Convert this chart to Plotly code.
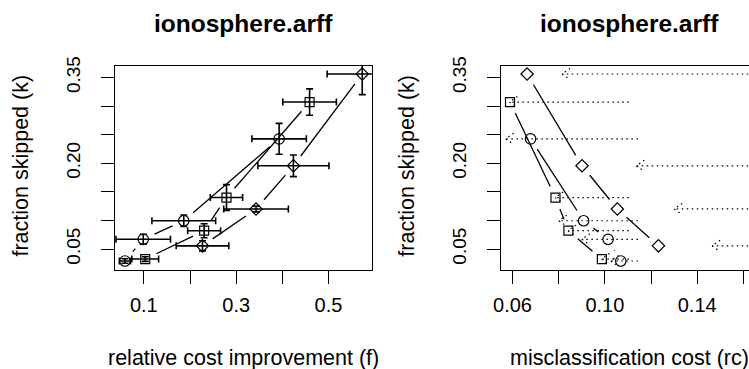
import math
import plotly.graph_objects as go

# ---- data: fraction skipped (k), relative cost improvement (f), misclassification cost (rc)
circ_k = [0.029, 0.067, 0.0994, 0.2426]
circ_k_sd = [0.004, 0.0088, 0.010, 0.027]
circ_f = [0.059, 0.0987, 0.1865, 0.393]
circ_f_sd = [0.012, 0.059, 0.069, 0.059]
circ_rc = [0.1069, 0.1014, 0.0908, 0.0678]
circ_rc_ref = [0.1025, 0.090, 0.080, 0.057]
circ_rc_base = 0.1143

sq_k = [0.0324, 0.082, 0.140, 0.307]
sq_k_sd = [0.004, 0.0122, 0.0225, 0.023]
sq_f = [0.103, 0.2306, 0.279, 0.459]
sq_f_sd = [0.029, 0.0357, 0.035, 0.058]
sq_rc = [0.0987, 0.0842, 0.0786, 0.0589]
sq_rc_ref = [0.0985, 0.0840, 0.0784, 0.0586]
sq_rc_base = 0.1104

dia_k = [0.0555, 0.120, 0.1955, 0.356]
dia_k_sd = [0.0088, 0.005, 0.019, 0.036]
dia_f = [0.227, 0.343, 0.424, 0.573]
dia_f_sd = [0.057, 0.070, 0.077, 0.076]
dia_rc = [0.1232, 0.1054, 0.0901, 0.0663]
dia_rc_ref = [0.1464, 0.130, 0.1136, 0.0814]
dia_rc_base = 0.1621

title_text = "ionosphere.arff"
xlab_left = "relative cost improvement (f)"
xlab_right = "misclassification cost (rc)"
ylab = "fraction skipped (k)"

k_ticks = [0.05, 0.10, 0.15, 0.20, 0.25, 0.30, 0.35]
k_ticktext = ["0.05", "", "", "0.20", "", "", "0.35"]
f_ticks = [0.1, 0.2, 0.3, 0.4, 0.5]
f_ticktext = ["0.1", "", "0.3", "", "0.5"]
rc_ticks = [0.06, 0.08, 0.10, 0.12, 0.14, 0.16]
rc_ticktext = ["0.06", "", "0.10", "", "0.14", ""]

# ---- page geometry (pixels)
W, H = 749, 369
L1, R1 = 108.0, 368.0
L2, R2 = 498.3, 749.0
TOP, BOT = 57.5, 267.0

f_range = [0.0372, 0.5943]
k_range = [0.0137, 0.3701]
rc_range = [0.05499, 0.16244]

sx1 = (R1 - L1) / (f_range[1] - f_range[0])
sx2 = (R2 - L2) / (rc_range[1] - rc_range[0])
sy = (BOT - TOP) / (k_range[1] - k_range[0])

FONT = "Liberation Sans, Arial, Helvetica, sans-serif"
NARROW = "Liberation Sans Narrow, Arial Narrow, Liberation Sans, sans-serif"


def gapped(xs, ys, sx, gap=12.5):
    """Segments between consecutive points, with a gap left around each point."""
    gx, gy = [], []
    for i in range(len(xs) - 1):
        dx = (xs[i + 1] - xs[i]) * sx
        dy = (ys[i + 1] - ys[i]) * sy
        d = math.hypot(dx, dy)
        if d <= 2 * gap:
            continue
        t = gap / d
        gx += [xs[i] + (xs[i + 1] - xs[i]) * t, xs[i + 1] - (xs[i + 1] - xs[i]) * t, None]
        gy += [ys[i] + (ys[i + 1] - ys[i]) * t, ys[i + 1] - (ys[i + 1] - ys[i]) * t, None]
    return gx, gy


def dotted_arrows(tips, ks, base, sx, head=10.0, ang=35.0):
    """Dotted arrows running left from a baseline cost to each tip, with an open head."""
    ax, ay = [], []
    hx = head * math.cos(math.radians(ang)) / sx
    hy = head * math.sin(math.radians(ang)) / sy
    for t, k in zip(tips, ks):
        ax += [base, t, None, t + hx, t, t + hx, None]
        ay += [k, k, None, k + hy, k, k - hy, None]
    return ax, ay


fig = go.Figure()

series = [
    ("circle-open", 10.5, circ_f, circ_f_sd, circ_k, circ_k_sd, circ_rc, circ_rc_ref, circ_rc_base),
    ("square-open", 9, sq_f, sq_f_sd, sq_k, sq_k_sd, sq_rc, sq_rc_ref, sq_rc_base),
    ("diamond-open", 9.5, dia_f, dia_f_sd, dia_k, dia_k_sd, dia_rc, dia_rc_ref, dia_rc_base),
]

for sym, size, f, f_sd, k, k_sd, rc, rc_ref, rc_base in series:
    # left panel: connecting lines
    gx, gy = gapped(f, k, sx1)
    fig.add_trace(go.Scatter(x=gx, y=gy, mode="lines", xaxis="x", yaxis="y",
                             line=dict(color="black", width=1.3), hoverinfo="skip"))
    # left panel: points with error bars
    fig.add_trace(go.Scatter(
        x=f, y=k, mode="markers", xaxis="x", yaxis="y",
        marker=dict(symbol=sym, size=size, color="black", line=dict(width=1.2, color="black")),
        error_x=dict(type="data", array=f_sd, symmetric=True, color="black", thickness=1.6, width=3.5),
        error_y=dict(type="data", array=k_sd, symmetric=True, color="black", thickness=1.6, width=3.5),
    ))
    # right panel: dotted arrows
    ax, ay = dotted_arrows(rc_ref, k, rc_base, sx2)
    fig.add_trace(go.Scatter(x=ax, y=ay, mode="lines", xaxis="x2", yaxis="y2",
                             line=dict(color="black", width=1.2, dash="1.5px,3.5px"), hoverinfo="skip"))
    # right panel: connecting lines and points
    gx, gy = gapped(rc, k, sx2)
    fig.add_trace(go.Scatter(x=gx, y=gy, mode="lines", xaxis="x2", yaxis="y2",
                             line=dict(color="black", width=1.3), hoverinfo="skip"))
    fig.add_trace(go.Scatter(
        x=rc, y=k, mode="markers", xaxis="x2", yaxis="y2",
        marker=dict(symbol=sym, size=size, color="black", line=dict(width=1.2, color="black")),
    ))

axis_common = dict(showline=True, linecolor="black", linewidth=1, ticks="outside", ticklen=13,
                   tickwidth=1, tickcolor="black", showgrid=False, zeroline=False,
                   tickfont=dict(family=FONT, size=20, color="black"), ticklabelstandoff=4)
y_common = dict(axis_common, tickangle=-90, tickvals=k_ticks, ticktext=k_ticktext,
                range=k_range, tickfont=dict(family=NARROW, size=19, color="black"),
                ticklabelstandoff=13)

ydom = [(H - BOT) / H, (H - TOP) / H]
fig.update_layout(
    width=W, height=H, autosize=False, showlegend=False,
    margin=dict(l=0, r=0, t=0, b=0, pad=0),
    paper_bgcolor="white", plot_bgcolor="white",
    xaxis=dict(axis_common, domain=[L1 / W, R1 / W], range=f_range, tickvals=f_ticks,
               ticktext=f_ticktext, mirror=True, anchor="y"),
    yaxis=dict(y_common, domain=ydom, mirror=True, anchor="x"),
    xaxis2=dict(axis_common, domain=[L2 / W, 1.0], range=rc_range, tickvals=rc_ticks,
                ticktext=rc_ticktext, mirror=True, anchor="y2"),
    yaxis2=dict(y_common, domain=ydom, mirror=False, anchor="x2"),
)

ann = []
for cx in [(L1 + R1) / 2, (L2 + 757.7) / 2]:
    ann.append(dict(text="<b>%s</b>" % title_text, x=cx / W, y=(H - 14) / H, xref="paper",
                    yref="paper", xanchor="center", yanchor="middle", showarrow=False,
                    font=dict(family=FONT, size=24.5, color="black")))
ann.append(dict(text=xlab_left, x=((L1 + R1) / 2) / W, y=(H - 357.5) / H, xref="paper", yref="paper",
                xanchor="center", yanchor="middle", showarrow=False,
                font=dict(family=FONT, size=21.5, color="black")))
ann.append(dict(text=xlab_right, x=((L2 + 757.7) / 2) / W, y=(H - 357.5) / H, xref="paper",
                yref="paper", xanchor="center", yanchor="middle", showarrow=False,
                font=dict(family=FONT, size=21.5, color="black")))
for lx in [L1 - 95, L2 - 95]:
    ann.append(dict(text=ylab, x=lx / W, y=(H - 160) / H, xref="paper", yref="paper",
                    xanchor="center", yanchor="middle", textangle=-90, showarrow=False,
                    font=dict(family=FONT, size=21.5, color="black")))
fig.update_layout(annotations=ann)

fig.write_html("out.html")
